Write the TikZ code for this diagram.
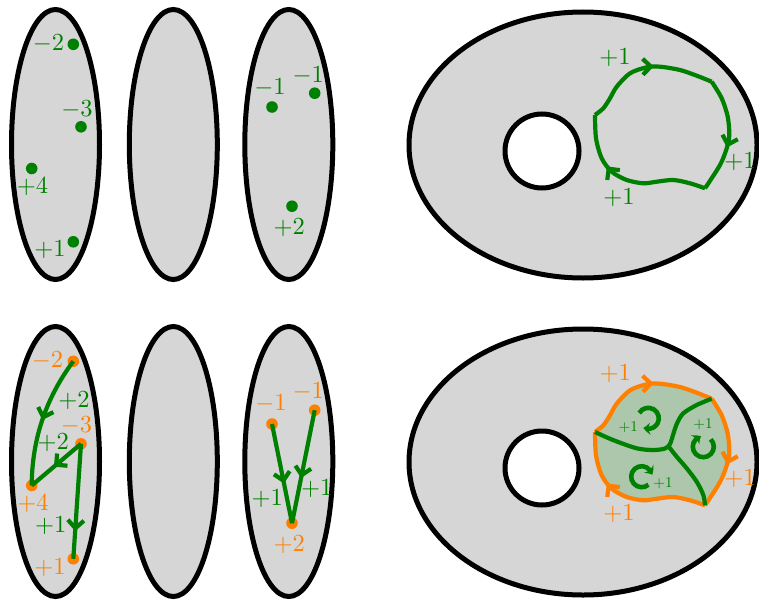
\documentclass[tikz,border=0pt]{standalone}
\usetikzlibrary{arrows.meta,decorations.markings,bending}
\definecolor{gfg}{RGB}{0,128,0}
\definecolor{ofg}{RGB}{255,128,0}
\definecolor{shade}{RGB}{214,214,214}
\definecolor{gfill}{RGB}{172,199,172}
\tikzset{
 surf/.style={draw=black,line width=5pt,fill=shade},
 holestyle/.style={draw=black,line width=5pt,fill=white},
 gl/.style={draw=gfg,line width=4.2pt},
 ol/.style={draw=ofg,line width=4.2pt},
 barb/.style={postaction={decorate,decoration={markings,mark=at position #1 with {\arrow{Straight Barb[length=8pt,width=16pt]}}}}},
 big/.style={font=\fontsize{10}{12}\selectfont, inner sep=0pt, scale=2.45},
 small/.style={font=\fontsize{10}{12}\selectfont, inner sep=0pt, scale=1.5},
 carrow/.style={draw=gfg,line width=4.6pt,-{Stealth[length=7pt,width=12pt,bend]}},
 gdot/.style={fill=gfg},
 odot/.style={fill=ofg}
}
\begin{document}
\begin{tikzpicture}[x=1pt,y=-1pt]
\useasboundingbox (0,0) rectangle (759,602);

% ================= TOP ROW =================
\draw[surf] (55.5,144.5) ellipse[x radius=44pt,y radius=135pt];
\draw[surf] (173.3,144.5) ellipse[x radius=44pt,y radius=135pt];
\draw[surf] (288.8,144.5) ellipse[x radius=44pt,y radius=135pt];

\coordinate (a1) at (73.3,44.3);
\coordinate (a2) at (81,126.8);
\coordinate (a3) at (31.7,168.5);
\coordinate (a4) at (73.3,241.8);
\coordinate (b1) at (272,107);
\coordinate (b2) at (314.7,93.2);
\coordinate (b3) at (292,206.2);
\foreach \p in {a1,a2,a3,a4,b1,b2,b3} \fill[gdot] (\p) circle[radius=5.8pt];

\node[big,text=gfg] (la1) at (48.5,44) {$-2$};
\node[big,text=gfg] (la2) at (77,109.5) {$-3$};
\node[big,text=gfg] (la3) at (32.5,187) {$+4$};
\node[big,text=gfg] (la4) at (50,250) {$+1$};
\node[big,text=gfg] (lb1) at (270,88) {$-1$};
\node[big,text=gfg] (lb2) at (308.3,75.5) {$-1$};
\node[big,text=gfg] (lb3) at (289.3,228) {$+2$};

% torus top
\draw[surf] (583,145) ellipse[x radius=174pt,y radius=133pt];
\draw[holestyle] (542,151) circle[radius=37pt];

\draw[gl,barb=0.57] plot[smooth] coordinates {(595,115) (603.3,108.3) (610,98.3) (616.7,86.7) (630,73.3) (646.7,67.3) (660,66.7) (680,70) (696.7,75.7) (711.7,81.7)};
\draw[gl,barb=0.6] plot[smooth] coordinates {(711.7,81.7) (721.7,98.3) (727.7,116.7) (729.3,135) (726.7,148.3) (720,165) (705,188.3)};
\draw[gl,barb=0.66] plot[smooth] coordinates {(705,188.3) (690,183.3) (673.3,180) (656.7,181.7) (643.3,183.3) (626.7,180) (611.7,171.7) (601.7,158.3) (596,138.3) (595,115)};

\node[big,text=gfg] (t1) at (615,57.3) {$+1$};
\node[big,text=gfg] (t2) at (740,161.7) {$+1$};
\node[big,text=gfg] (t3) at (619,197.3) {$+1$};

% ================= BOTTOM ROW =================
\begin{scope}[yshift=-317pt]
\draw[surf] (55.5,144.5) ellipse[x radius=44pt,y radius=135pt];
\draw[surf] (173.3,144.5) ellipse[x radius=44pt,y radius=135pt];
\draw[surf] (288.8,144.5) ellipse[x radius=44pt,y radius=135pt];

\coordinate (c1) at (73.3,44.3);
\coordinate (c2) at (81,126.8);
\coordinate (c3) at (31.7,168.5);
\coordinate (c4) at (73.3,241.8);
\coordinate (d1) at (272,107);
\coordinate (d2) at (314.7,93.2);
\coordinate (d3) at (292,206.2);
\foreach \p in {c1,c2,c3,c4,d1,d2,d3} \fill[odot] (\p) circle[radius=5.8pt];

\draw[gl,barb=0.5] (c1) .. controls (52,73) and (32,113) .. (c3);
\draw[gl,barb=0.55] (c2) -- (c3);
\draw[gl,barb=0.76] (c2) -- (c4);
\draw[gl,barb=0.6] (d1) -- (d3);
\draw[gl,barb=0.6] (d2) -- (d3);

\node[big,text=ofg] (lc1) at (47.5,44) {$-2$};
\node[big,text=ofg] (lc2) at (76.5,108.5) {$-3$};
\node[big,text=ofg] (lc3) at (33,187) {$+4$};
\node[big,text=ofg] (lc4) at (50,250.5) {$+1$};
\node[big,text=ofg] (ld1) at (271,87) {$-1$};
\node[big,text=ofg] (ld2) at (308.3,75) {$-1$};
\node[big,text=ofg] (ld3) at (289.3,228) {$+2$};

\node[big,text=gfg] (g1) at (74,84) {$+2$};
\node[big,text=gfg] (g2) at (53.3,126) {$+2$};
\node[big,text=gfg] (g3) at (50.7,209) {$+1$};
\node[big,text=gfg] (g4) at (267.3,182) {$+1$};
\node[big,text=gfg] (g5) at (316.7,171.3) {$+1$};

% torus bottom
\draw[surf] (583,145) ellipse[x radius=174pt,y radius=133pt];
\draw[holestyle] (542,151) circle[radius=37pt];

\fill[gfill] plot[smooth] coordinates {(595,115) (603.3,108.3) (610,98.3) (616.7,86.7) (630,73.3) (646.7,67.3) (660,66.7) (680,70) (696.7,75.7) (711.7,81.7)}
 -- plot[smooth] coordinates {(711.7,81.7) (721.7,98.3) (727.7,116.7) (729.3,135) (726.7,148.3) (720,165) (705,188.3)}
 -- plot[smooth] coordinates {(705,188.3) (690,183.3) (673.3,180) (656.7,181.7) (643.3,183.3) (626.7,180) (611.7,171.7) (601.7,158.3) (596,138.3) (595,115)} -- cycle;

\draw[ol,barb=0.57] plot[smooth] coordinates {(595,115) (603.3,108.3) (610,98.3) (616.7,86.7) (630,73.3) (646.7,67.3) (660,66.7) (680,70) (696.7,75.7) (711.7,81.7)};
\draw[ol,barb=0.6] plot[smooth] coordinates {(711.7,81.7) (721.7,98.3) (727.7,116.7) (729.3,135) (726.7,148.3) (720,165) (705,188.3)};
\draw[ol,barb=0.66] plot[smooth] coordinates {(705,188.3) (690,183.3) (673.3,180) (656.7,181.7) (643.3,183.3) (626.7,180) (611.7,171.7) (601.7,158.3) (596,138.3) (595,115)};

\draw[gl] plot[smooth] coordinates {(595,115) (613,123) (636.7,131.3) (653.3,133) (665,131.5) (670,127) (673.3,117) (677,106.3) (683.3,96.3) (696.7,88) (711.7,81.7)};
\draw[gl] plot[smooth] coordinates {(669,130) (676.7,139.7) (686.7,151.3) (696.7,164.7) (703.3,178) (705,188.3)};

\coordinate (r1) at (648.3,101.3);
\coordinate (r2) at (703.3,129.7);
\coordinate (r3) at (641.7,159.7);
\draw[carrow] (r1) ++(150:10.5pt) arc[start angle=150,end angle=-118,radius=10.5pt];
\draw[carrow] (r2) ++(45:10.5pt) arc[start angle=45,end angle=-258,radius=10.5pt];
\draw[carrow] (r3) ++(-50:10.5pt) arc[start angle=-50,end angle=-350,radius=10.5pt];

\node[small,text=gfg] (s1) at (628.3,110.3) {$+1$};
\node[small,text=gfg] (s2) at (703,107) {$+1$};
\node[small,text=gfg] (s3) at (663,166.7) {$+1$};

\node[big,text=ofg] (u1) at (615.3,57) {$+1$};
\node[big,text=ofg] (u2) at (740,162) {$+1$};
\node[big,text=ofg] (u3) at (619,197) {$+1$};
\end{scope}
\end{tikzpicture}
\end{document}
